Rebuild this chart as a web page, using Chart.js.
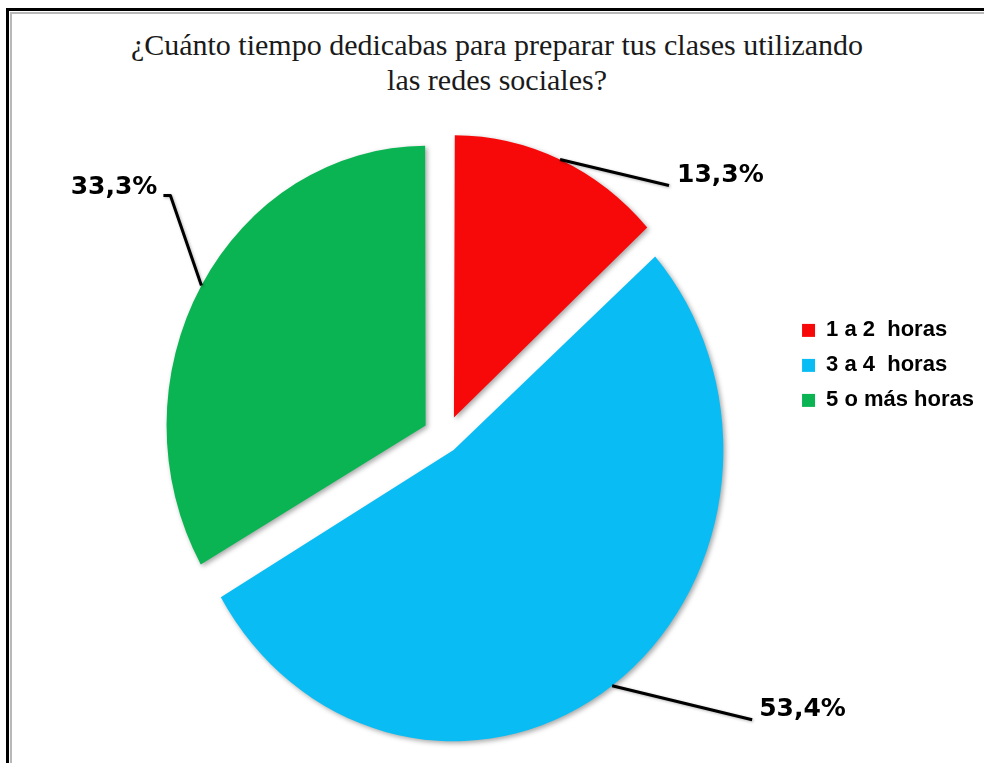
<!DOCTYPE html>
<html>
<head>
  <meta charset="UTF-8">
  <title>Tiempo para preparar clases</title>
  <script src="https://cdn.jsdelivr.net/npm/chart.js"></script>
  <style>
    body {
      margin: 0;
      background: #ffffff;
      overflow: hidden;
    }

    #wrap {
      position: relative;
      width: 984px;
      height: 763px;
    }

    /* marco negro con linea gris interior, cortado por la derecha y abajo */
    #frame {
      position: absolute;
      left: 6px;
      top: 8px;
      width: 1100px;
      height: 900px;
      border-left: 3px solid #000;
      border-top: 3px solid #000;
    }

    #frame .inner {
      position: absolute;
      left: 1px;
      top: 1px;
      width: 1100px;
      height: 900px;
      border-left: 2px solid #b8b8b8;
      border-top: 2px solid #b8b8b8;
    }

    h1 {
      position: absolute;
      left: 5px;
      top: 27px;
      width: 984px;
      margin: 0;
      font-family: 'Liberation Serif', 'Times New Roman', serif;
      font-weight: normal;
      font-size: 30px;
      line-height: 35px;
      text-align: center;
      color: #1a1a1a;
    }

    canvas {
      position: absolute;
      left: 0;
      top: 0;
    }
  </style>
</head>
<body>
  <div id="wrap">
    <div id="frame"><div class="inner"></div></div>
    <h1>¿Cuánto tiempo dedicabas para preparar tus clases utilizando<br>las redes sociales?</h1>
    <canvas id="pieChart" width="984" height="763"></canvas>
  </div>

  <script>
    const categories = ['1 a 2  horas', '3 a 4  horas', '5 o más horas'];
    const percentages = [13.3, 53.4, 33.3];
    const sliceColors = ['#f80909', '#09bdf4', '#0ab452'];
    const sliceOffsets = [83, 55, 92];

    // la imagen original esta un poco estirada en vertical
    const stretchY = 1.08;

    // posicion de las lineas guia respecto al punto medio del arco
    const leaders = [
      { elbow: [109, 26], tail: [0, 0], textDx: 8, textDy: -10, align: 'left' },
      { elbow: [140, 34], tail: [0, 0], textDx: 7, textDy: -10, align: 'left' },
      { elbow: [-31, -90], tail: [-7, 0], textDx: -6, textDy: -8, align: 'right' }
    ];

    function centerOf(chart) {
      const a = chart.chartArea;
      return { x: (a.left + a.right) / 2, y: (a.top + a.bottom) / 2 };
    }

    const stretchPlugin = {
      id: 'stretch',
      beforeDatasetsDraw(chart) {
        const ctx = chart.ctx;
        const c = centerOf(chart);
        ctx.save();
        ctx.translate(c.x, c.y);
        ctx.scale(1, stretchY);
        ctx.translate(-c.x, -c.y);
        ctx.shadowColor = 'rgba(0, 0, 0, 0.35)';
        ctx.shadowBlur = 5;
        ctx.shadowOffsetX = 2;
        ctx.shadowOffsetY = 2;
      },
      afterDatasetsDraw(chart) {
        chart.ctx.restore();
      }
    };

    const leaderPlugin = {
      id: 'leaders',
      afterDraw(chart) {
        const ctx = chart.ctx;
        const c = centerOf(chart);
        const meta = chart.getDatasetMeta(0);

        meta.data.forEach((arc, i) => {
          const p = arc.getProps(['x', 'y', 'startAngle', 'endAngle', 'outerRadius', 'circumference'], true);
          const mid = (p.startAngle + p.endAngle) / 2;
          // mismo desplazamiento que usa ArcElement.draw
          const off = (arc.options.offset || 0) / 4;
          const fix = 1 - Math.sin(Math.min(Math.PI, p.circumference || 0));
          const disp = off + off * fix;
          const px = p.x + Math.cos(mid) * (disp + p.outerRadius);
          const pyRaw = p.y + Math.sin(mid) * (disp + p.outerRadius);
          const py = c.y + (pyRaw - c.y) * stretchY;

          const st = leaders[i];
          const ex = px + st.elbow[0];
          const ey = py + st.elbow[1];
          const tx = ex + st.tail[0];
          const ty = ey + st.tail[1];

          ctx.save();
          ctx.shadowColor = 'rgba(0, 0, 0, 0.3)';
          ctx.shadowBlur = 3;
          ctx.shadowOffsetX = 1;
          ctx.shadowOffsetY = 1;
          ctx.strokeStyle = '#000';
          ctx.lineWidth = 3;
          ctx.lineJoin = 'round';
          ctx.beginPath();
          ctx.moveTo(px, py);
          ctx.lineTo(ex, ey);
          ctx.lineTo(tx, ty);
          ctx.stroke();
          ctx.restore();

          ctx.save();
          ctx.fillStyle = '#000';
          ctx.font = 'bold 25px "DejaVu Sans", Verdana, sans-serif';
          ctx.textAlign = st.align;
          ctx.textBaseline = 'middle';
          const txt = percentages[i].toFixed(1).replace('.', ',') + '%';
          ctx.fillText(txt, tx + st.textDx, ty + st.textDy);
          ctx.restore();
        });
      }
    };

    new Chart(document.getElementById('pieChart'), {
      type: 'pie',
      data: {
        labels: categories,
        datasets: [{
          data: percentages,
          backgroundColor: sliceColors,
          borderWidth: 0,
          offset: sliceOffsets,
          hoverOffset: 0
        }]
      },
      options: {
        responsive: false,
        animation: false,
        radius: 256,
        layout: {
          padding: { left: 102, right: 0, top: 130, bottom: 17 }
        },
        plugins: {
          title: { display: false },
          tooltip: { enabled: false },
          legend: {
            position: 'right',
            align: 'start',
            title: {
              display: true,
              text: '',
              font: { size: 12 },
              padding: { top: 162, bottom: 0 }
            },
            labels: {
              boxWidth: 13,
              boxHeight: 13,
              padding: 13,
              color: '#000',
              font: {
                family: '"Liberation Sans", Arial, sans-serif',
                size: 22,
                weight: 'bold'
              }
            }
          }
        }
      },
      plugins: [stretchPlugin, leaderPlugin]
    });
  </script>
</body>
</html>
